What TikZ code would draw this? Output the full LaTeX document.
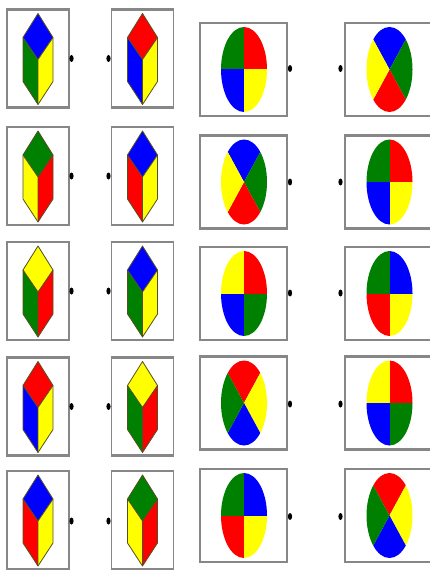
\documentclass[tikz,border=0pt]{standalone}
\usetikzlibrary{shapes.geometric}
\definecolor{cb}{RGB}{0,0,255}
\definecolor{cr}{RGB}{255,0,0}
\definecolor{cg}{RGB}{0,128,0}
\definecolor{cy}{RGB}{255,255,0}
\definecolor{edgecol}{RGB}{85,80,35}
\definecolor{boxgray}{RGB}{135,135,135}
\tikzset{
  cubebox/.style={rectangle,draw=boxgray,line width=1.2pt,minimum width=62pt,minimum height=97pt,inner sep=0pt},
  ellbox/.style={rectangle,draw=boxgray,line width=1.2pt,minimum width=87pt,minimum height=92pt,inner sep=0pt},
  ellboxwide/.style={ellbox,minimum width=91pt},
  boxedge/.style={draw=boxgray,line width=2.6pt},
  pin/.style={ellipse,fill=black,minimum width=4.2pt,minimum height=7pt,inner sep=0pt},
  cubeline/.style={draw=edgecol,line width=0.8pt,line join=round}
}
\newcommand\mycube[5]{%
  \fill[#3] (#1,#2-46) -- (#1+15,#2-22) -- (#1,#2) -- (#1-15,#2-22) -- cycle;
  \fill[#4] (#1-15,#2-22) -- (#1,#2) -- (#1,#2+45) -- (#1-15,#2+22) -- cycle;
  \fill[#5] (#1+15,#2-22) -- (#1,#2) -- (#1,#2+45) -- (#1+15,#2+22) -- cycle;
  \draw[cubeline] (#1,#2-46) -- (#1+15,#2-22) -- (#1+15,#2+22) -- (#1,#2+45) -- (#1-15,#2+22) -- (#1-15,#2-22) -- cycle;
  \draw[cubeline] (#1-15,#2-22) -- (#1,#2) -- (#1+15,#2-22) (#1,#2) -- (#1,#2+45);
}
% quadrant ellipse: cx cy TL TR BL BR
\newcommand\quadell[6]{%
  \begin{scope}
    \clip (#1,#2) ellipse [x radius=23pt, y radius=42.5pt];
    \fill[#3] (#1-30,#2-50) rectangle (#1,#2);
    \fill[#4] (#1,#2-50) rectangle (#1+30,#2);
    \fill[#5] (#1-30,#2) rectangle (#1,#2+50);
    \fill[#6] (#1,#2) rectangle (#1+30,#2+50);
  \end{scope}
}
% X ellipse: cx cy top right bottom left
\newcommand\xell[6]{%
  \begin{scope}
    \clip (#1,#2) ellipse [x radius=23pt, y radius=42.5pt];
    \fill[#3] (#1,#2) -- (#1-32.5,#2-60) -- (#1+32.5,#2-60) -- cycle;
    \fill[#4] (#1,#2) -- (#1+32.5,#2-60) -- (#1+32.5,#2+60) -- cycle;
    \fill[#5] (#1,#2) -- (#1+32.5,#2+60) -- (#1-32.5,#2+60) -- cycle;
    \fill[#6] (#1,#2) -- (#1-32.5,#2+60) -- (#1-32.5,#2-60) -- cycle;
  \end{scope}
}
\newcommand\edgesof[1]{%
  \draw[boxedge] (#1.north west) -- (#1.north east);
  \draw[boxedge] (#1.south west) -- (#1.south east);
}
\begin{document}
\begin{tikzpicture}[x=1pt,y=-1pt]
\useasboundingbox (0,0) rectangle (430,572);
\fill[white] (0,0) rectangle (430,572);
% ---------- row 1 ----------
\node[cubebox] (a1) at (38,58.5) {};
\node[cubebox] (b1) at (142.5,58.5) {};
\node[ellbox] (c1) at (243.5,69.5) {};
\node[ellboxwide] (d1) at (390.5,69.5) {};
% ---------- row 2 ----------
\node[cubebox] (a2) at (38,176) {};
\node[cubebox] (b2) at (142.5,176) {};
\node[ellbox] (c2) at (243.5,182) {};
\node[ellboxwide] (d2) at (390.5,182) {};
% ---------- row 3 ----------
\node[cubebox] (a3) at (38,291) {};
\node[cubebox] (b3) at (142.5,291) {};
\node[ellbox] (c3) at (243.5,293.5) {};
\node[ellboxwide] (d3) at (390.5,293.5) {};
% ---------- row 4 ----------
\node[cubebox] (a4) at (38,406.5) {};
\node[cubebox] (b4) at (142.5,406.5) {};
\node[ellbox] (c4) at (243.5,403) {};
\node[ellboxwide] (d4) at (390.5,403) {};
% ---------- row 5 ----------
\node[cubebox] (a5) at (38,520) {};
\node[cubebox] (b5) at (142.5,520) {};
\node[ellbox] (c5) at (243.5,515.5) {};
\node[ellboxwide] (d5) at (390.5,515.5) {};
\foreach \n in {a1,b1,c1,d1,a2,b2,c2,d2,a3,b3,c3,d3,a4,b4,c4,d4,a5,b5,c5,d5}{\edgesof{\n}}
% cubes
\mycube{38}{59.5}{cb}{cg}{cy}
\mycube{142.5}{59.5}{cr}{cb}{cy}
\mycube{38}{177}{cg}{cy}{cr}
\mycube{142.5}{177}{cb}{cr}{cy}
\mycube{38}{292}{cy}{cg}{cr}
\mycube{142.5}{292}{cb}{cg}{cy}
\mycube{38}{407.5}{cr}{cb}{cy}
\mycube{142.5}{407.5}{cy}{cg}{cr}
\mycube{38}{521}{cb}{cr}{cy}
\mycube{142.5}{521}{cg}{cy}{cr}
% ellipses
\quadell{244}{69.5}{cg}{cr}{cb}{cy}
\xell{389.5}{69.5}{cb}{cg}{cr}{cy}
\xell{244}{182}{cb}{cg}{cr}{cy}
\quadell{389.5}{182}{cg}{cr}{cb}{cy}
\quadell{244}{293.5}{cy}{cr}{cb}{cg}
\quadell{389.5}{293.5}{cg}{cb}{cr}{cy}
\xell{244}{403}{cr}{cy}{cb}{cg}
\quadell{389.5}{403}{cy}{cr}{cb}{cg}
\quadell{244}{515.5}{cg}{cb}{cr}{cy}
\xell{389.5}{515.5}{cr}{cy}{cb}{cg}
% pins
\foreach \r/\cyA/\cyB in {1/58.5/68.5,2/176/182,3/291/293,4/406.5/404,5/521/516.5}{
  \node[pin] (pa\r) at (71.5,\cyA) {};
  \node[pin] (pb\r) at (108.5,\cyA) {};
  \node[pin] (pc\r) at (290,\cyB) {};
  \node[pin] (pd\r) at (340.5,\cyB) {};
}
\end{tikzpicture}
\end{document}
